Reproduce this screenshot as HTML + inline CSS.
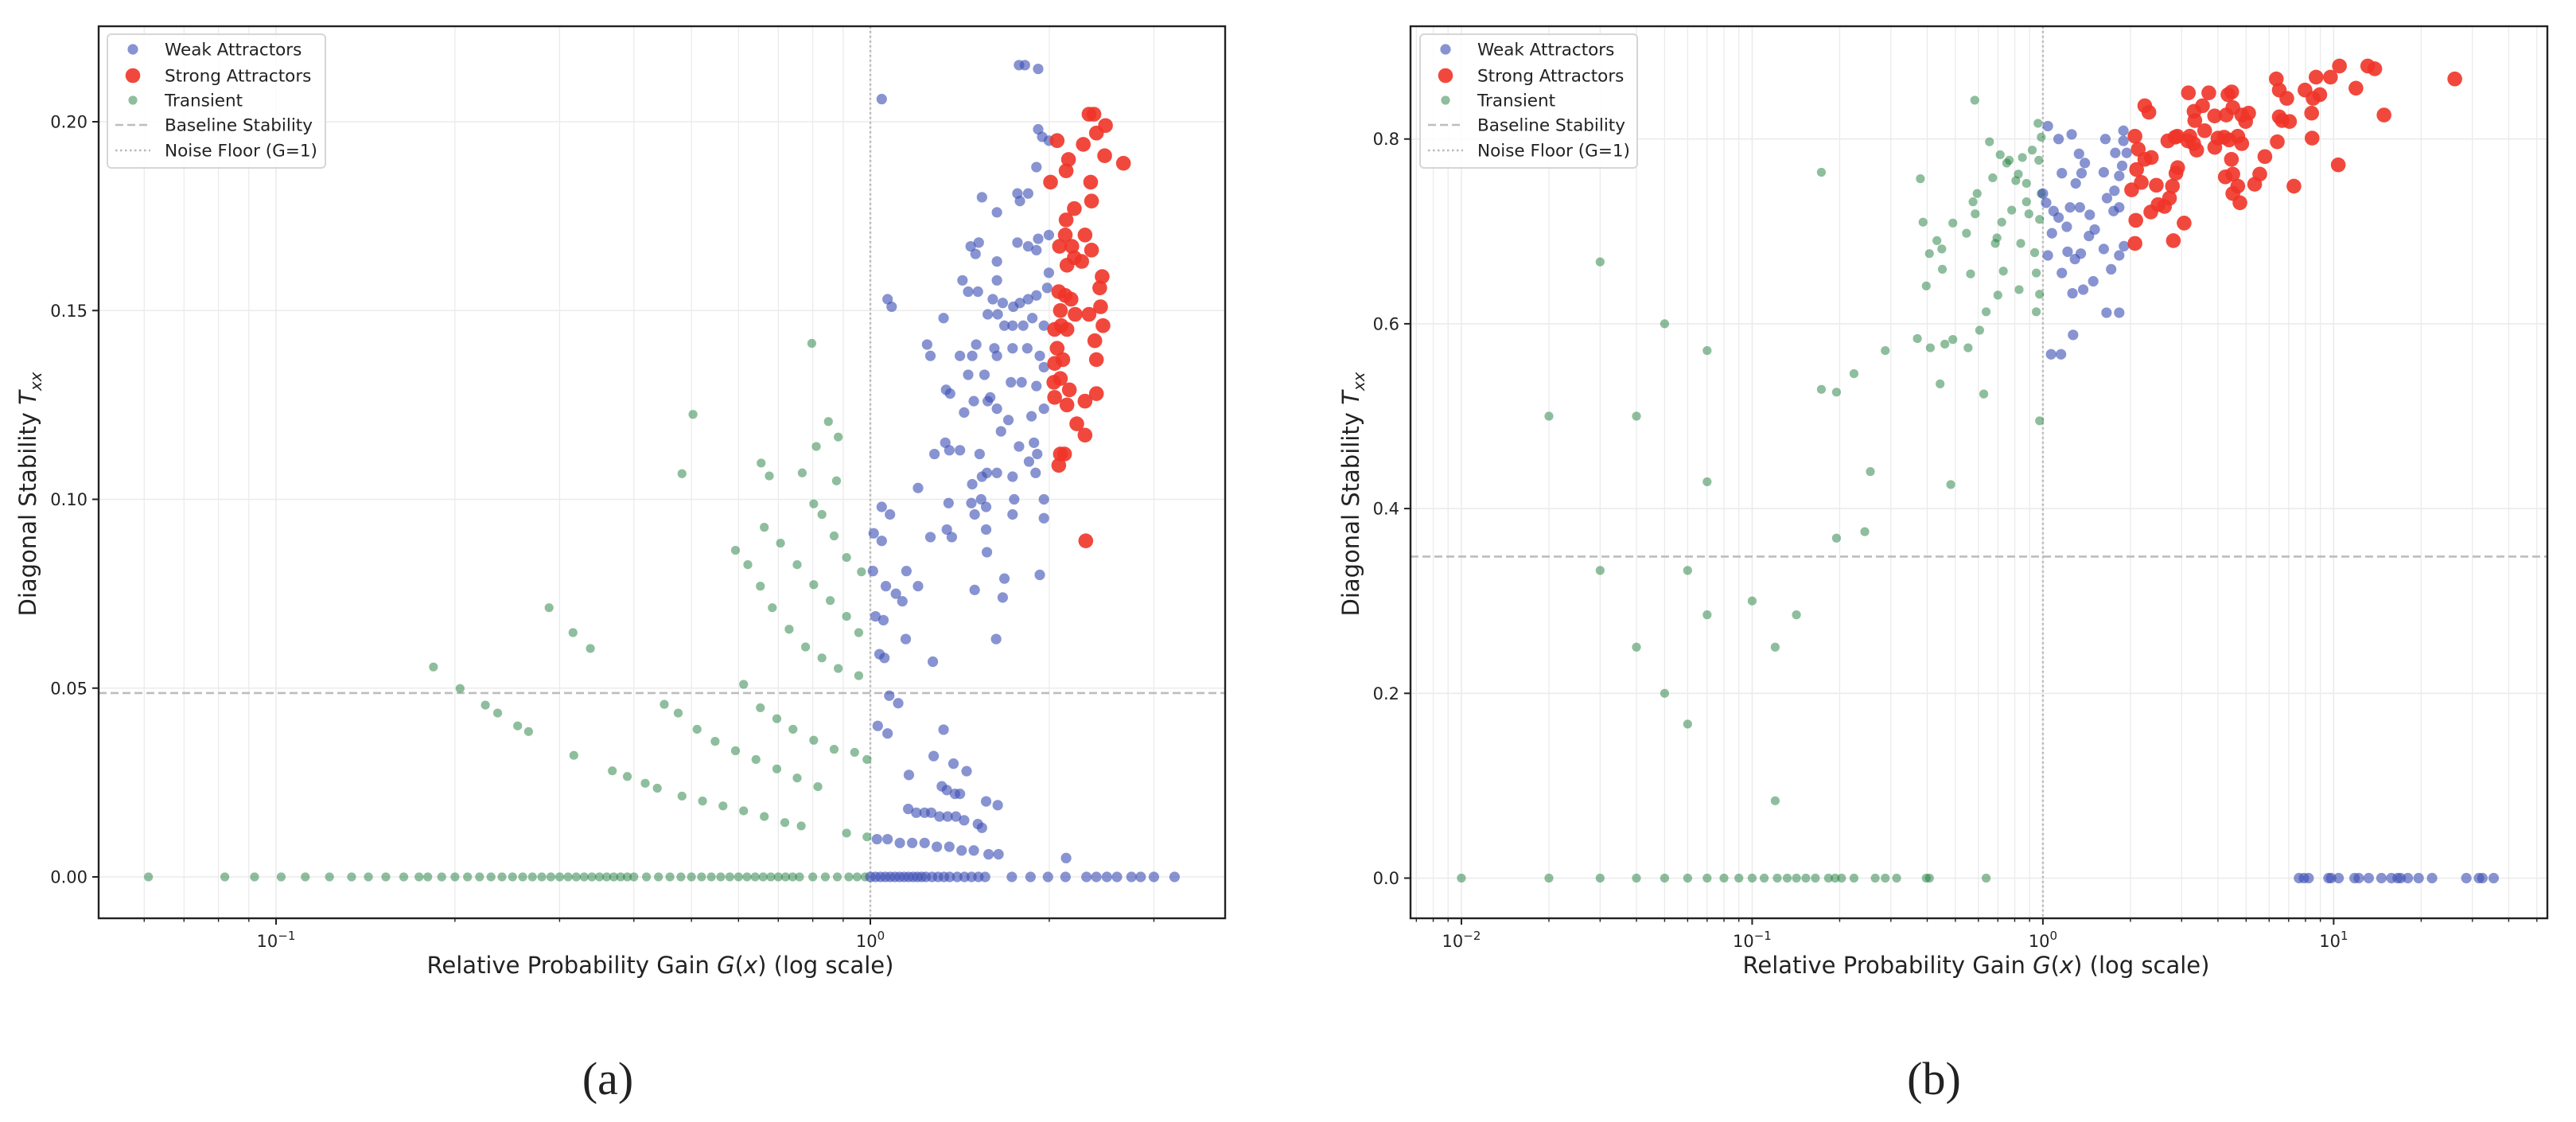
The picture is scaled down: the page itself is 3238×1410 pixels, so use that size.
<!DOCTYPE html>
<html><head><meta charset="utf-8"><style>
html,body{margin:0;padding:0;background:#fff}
svg{display:block;font-family:"DejaVu Sans","Liberation Sans",sans-serif}
</style></head><body>
<svg id="fig" width="3238" height="1410" viewBox="0 0 3238 1410" xmlns="http://www.w3.org/2000/svg">
<g id="panelA"></g>
<g id="panelB"></g>
</svg>
<script>
// ---------- Panel (a) data: [G, T] ----------
const weakA = [[1.045,0.206],[1.779,0.215],[1.820,0.215],[1.916,0.214],[1.916,0.198],[1.946,0.196],[1.997,0.195],[1.903,0.188],[1.541,0.180],[1.633,0.176],[1.768,0.181],[1.785,0.179],[1.843,0.181],[1.916,0.169],[1.997,0.170],[1.475,0.167],[1.522,0.168],[1.503,0.165],[1.633,0.163],[1.768,0.168],[1.843,0.167],[1.903,0.166],[1.429,0.158],[1.633,0.158],[1.997,0.160],[1.461,0.155],[1.517,0.155],[1.607,0.153],[1.670,0.152],[1.740,0.151],[1.785,0.152],[1.843,0.153],[1.903,0.154],[1.984,0.156],[1.069,0.153],[1.086,0.151],[1.328,0.148],[1.576,0.149],[1.638,0.149],[1.681,0.146],[1.735,0.146],[1.808,0.146],[1.873,0.148],[1.959,0.146],[1.246,0.141],[1.262,0.138],[1.415,0.138],[1.484,0.138],[1.507,0.141],[1.617,0.140],[1.633,0.138],[1.735,0.140],[1.837,0.140],[1.928,0.138],[1.959,0.135],[1.461,0.133],[1.556,0.133],[1.724,0.131],[1.797,0.131],[1.903,0.130],[1.341,0.129],[1.362,0.128],[1.438,0.123],[1.493,0.126],[1.576,0.126],[1.591,0.127],[1.633,0.124],[1.707,0.121],[1.867,0.122],[1.959,0.124],[1.337,0.115],[1.358,0.113],[1.415,0.113],[1.282,0.112],[1.527,0.112],[1.659,0.118],[1.779,0.114],[1.885,0.115],[1.909,0.112],[1.571,0.107],[1.633,0.107],[1.735,0.106],[1.849,0.110],[1.897,0.107],[1.484,0.104],[1.541,0.106],[1.203,0.103],[1.354,0.099],[1.479,0.099],[1.566,0.098],[1.746,0.100],[1.959,0.100],[1.959,0.095],[1.735,0.096],[1.498,0.096],[1.536,0.100],[1.345,0.092],[1.371,0.090],[1.262,0.090],[1.566,0.092],[1.045,0.098],[1.079,0.096],[1.013,0.091],[1.045,0.089],[1.150,0.081],[1.203,0.077],[1.062,0.077],[1.104,0.075],[1.132,0.073],[1.010,0.081],[1.020,0.069],[1.052,0.068],[1.147,0.063],[1.274,0.057],[1.036,0.059],[1.056,0.058],[1.498,0.076],[1.571,0.086],[1.681,0.079],[1.928,0.080],[1.670,0.074],[1.628,0.063],[1.076,0.048],[1.114,0.046],[1.029,0.040],[1.069,0.038],[1.161,0.027],[1.328,0.039],[1.278,0.032],[1.380,0.030],[1.452,0.028],[1.319,0.024],[1.345,0.023],[1.388,0.022],[1.415,0.022],[1.158,0.018],[1.195,0.017],[1.234,0.017],[1.266,0.017],[1.307,0.016],[1.349,0.016],[1.393,0.016],[1.438,0.015],[1.517,0.014],[1.541,0.013],[1.566,0.020],[1.638,0.019],[1.026,0.010],[1.069,0.010],[1.121,0.009],[1.176,0.009],[1.234,0.009],[1.294,0.008],[1.358,0.008],[1.424,0.007],[1.493,0.007],[1.581,0.006],[1.643,0.006],[2.135,0.005],
[1.0,0],[1.02,0],[1.04,0],[1.06,0],[1.08,0],[1.1,0],[1.12,0],[1.14,0],[1.16,0],[1.18,0],[1.2,0],[1.22,0],[1.24,0],[1.27,0],[1.3,0],[1.33,0],[1.36,0],[1.4,0],[1.44,0],[1.48,0],[1.52,0],[1.56,0],[1.73,0],[1.86,0],[1.99,0],[2.13,0],[2.31,0],[2.4,0],[2.5,0],[2.6,0],[2.75,0],[2.85,0],[3.0,0],[3.25,0]];
const strongA = [[2.333,0.202],[2.378,0.202],[2.401,0.197],[2.487,0.199],[2.062,0.195],[2.282,0.194],[2.479,0.191],[2.666,0.189],[2.155,0.190],[2.135,0.187],[2.010,0.184],[2.348,0.184],[2.356,0.179],[2.204,0.177],[2.135,0.174],[2.128,0.170],[2.297,0.170],[2.183,0.167],[2.356,0.166],[2.204,0.164],[2.081,0.167],[2.268,0.163],[2.142,0.162],[2.455,0.159],[2.075,0.155],[2.128,0.154],[2.432,0.156],[2.176,0.153],[2.440,0.151],[2.088,0.150],[2.211,0.149],[2.333,0.149],[2.095,0.146],[2.142,0.145],[2.463,0.146],[2.042,0.145],[2.386,0.142],[2.062,0.140],[2.108,0.137],[2.042,0.136],[2.401,0.137],[2.088,0.132],[2.036,0.131],[2.162,0.129],[2.401,0.128],[2.042,0.127],[2.297,0.126],[2.142,0.125],[2.225,0.120],[2.297,0.117],[2.088,0.112],[2.122,0.112],[2.075,0.109],[2.304,0.089]];
const transA = [[0.184,0.0556],[0.204,0.0499],[0.225,0.0455],[0.236,0.0434],[0.255,0.040],[0.266,0.0385],[0.317,0.0322],[0.288,0.0713],[0.316,0.0647],[0.338,0.0605],[0.482,0.1068],[0.503,0.1225],[0.797,0.1413],[0.850,0.1206],[0.883,0.1165],[0.811,0.114],[0.655,0.1096],[0.676,0.1062],[0.768,0.107],[0.877,0.1049],[0.368,0.0281],[0.390,0.0266],
[0.418,0.0248],[0.438,0.0235],[0.482,0.0214],[0.522,0.0201],[0.565,0.0188],[0.612,0.0175],[0.663,0.0160],[0.718,0.0144],[0.765,0.0135],[0.912,0.0116],[0.987,0.0106],
[0.450,0.0457],[0.475,0.0434],[0.511,0.0391],[0.548,0.0359],[0.593,0.0334],[0.642,0.0311],[0.696,0.0286],[0.753,0.0262],[0.816,0.0239],[0.987,0.0311],
[0.612,0.051],[0.653,0.0448],[0.696,0.0419],[0.741,0.0391],[0.803,0.0362],[0.869,0.0338],[0.941,0.033],
[0.593,0.0865],[0.622,0.0827],[0.653,0.077],[0.684,0.0713],[0.730,0.0656],[0.778,0.0609],[0.829,0.058],[0.883,0.0552],[0.956,0.0533],
[0.663,0.0926],[0.706,0.0884],[0.753,0.0827],[0.803,0.0774],[0.856,0.0732],[0.912,0.069],[0.956,0.0647],
[0.803,0.0988],[0.829,0.096],[0.869,0.0903],[0.912,0.0846],[0.966,0.0808],
[0.061,0],[0.082,0],[0.092,0],[0.102,0],[0.112,0],[0.123,0],[0.134,0],[0.143,0],[0.153,0],[0.164,0],[0.174,0],[0.18,0],[0.19,0],[0.2,0],[0.21,0],[0.22,0],[0.23,0],[0.24,0],[0.25,0],[0.26,0],[0.27,0],[0.28,0],[0.29,0],[0.30,0],[0.31,0],[0.32,0],[0.33,0],[0.34,0],[0.35,0],[0.36,0],[0.37,0],[0.38,0],[0.39,0],[0.40,0],[0.42,0],[0.44,0],[0.46,0],[0.48,0],[0.50,0],[0.52,0],[0.54,0],[0.56,0],[0.58,0],[0.60,0],[0.62,0],[0.64,0],[0.66,0],[0.68,0],[0.70,0],[0.72,0],[0.74,0],[0.76,0],[0.80,0],[0.84,0],[0.88,0],[0.92,0],[0.95,0],[0.98,0]];
const yTicksA = [0, 0.05, 0.10, 0.15, 0.20];
const yTickLabelsA = ["0.00","0.05","0.10","0.15","0.20"];
const xDecadesA = [-1, 0];
const baselineA = 0.0487;

// ---------- Panel (b) data: [G, T] ----------
const weakB = [[1.040,0.814],[1.132,0.800],[1.256,0.805],[1.0,0.741],[1.026,0.731],[1.162,0.763],[1.358,0.763],[1.394,0.774],[1.331,0.784],[1.640,0.800],[1.774,0.785],[1.892,0.809],[1.892,0.798],[1.942,0.785],[1.873,0.771],[1.83,0.760],[1.619,0.764],[1.661,0.736],[1.762,0.744],[1.75,0.722],[1.83,0.726],[1.297,0.752],[1.449,0.718],[1.34,0.726],[1.240,0.726],[1.088,0.722],[1.132,0.715],[1.074,0.698],[1.208,0.705],[1.507,0.702],[1.44,0.695],[1.216,0.678],[1.289,0.670],[1.35,0.676],[1.04,0.674],[1.619,0.681],[1.9,0.684],[1.83,0.674],[1.717,0.659],[1.162,0.655],[1.49,0.646],[1.376,0.637],[1.264,0.633],[1.655,0.612],[1.83,0.612],[1.27,0.588],[1.067,0.567],[1.154,0.567],
[7.6,0],[7.9,0],[8.2,0],[9.6,0],[9.8,0],[10.4,0],[11.8,0],[12.2,0],[13.2,0],[14.6,0],[15.8,0],[16.6,0],[17.0,0],[18.0,0],[19.6,0],[21.8,0],[28.6,0],[31.6,0],[32.5,0],[35.5,0]];
const strongB = [[2.241,0.836],[2.315,0.829],[2.073,0.803],[2.128,0.789],[2.241,0.778],[2.36,0.780],[2.10,0.767],[2.18,0.753],[2.019,0.745],[2.455,0.750],[2.087,0.712],[2.35,0.721],[2.073,0.687],[2.49,0.729],[2.62,0.727],[2.725,0.736],[2.869,0.763],[2.907,0.769],[2.69,0.798],[2.85,0.802],[3.165,0.850],[3.72,0.850],[3.31,0.830],[3.54,0.836],[3.33,0.820],[3.6,0.809],[3.2,0.803],[3.3,0.795],[3.38,0.788],[2.9,0.803],[3.15,0.798],[2.79,0.749],[3.06,0.709],[2.81,0.690],[3.896,0.825],[4.27,0.826],[4.33,0.848],[4.46,0.851],[4.5,0.834],[4.0,0.801],[3.9,0.791],[4.2,0.802],[4.83,0.826],[4.98,0.819],[5.1,0.828],[4.37,0.799],[4.68,0.803],[4.83,0.795],[4.45,0.778],[4.24,0.759],[4.5,0.762],[4.68,0.749],[4.5,0.741],[4.76,0.731],[5.57,0.762],[5.8,0.781],[5.35,0.751],[6.35,0.865],[6.5,0.853],[6.9,0.844],[6.5,0.824],[6.65,0.820],[7.05,0.819],[6.4,0.797],[7.3,0.749],[7.97,0.853],[8.7,0.867],[8.4,0.828],[8.43,0.801],[8.5,0.844],[8.96,0.848],[9.75,0.867],[10.47,0.879],[10.37,0.772],[11.93,0.855],[13.1,0.879],[13.85,0.876],[14.9,0.826],[26.1,0.865]];
const transB = [[0.02,0.5],[0.04,0.5],[0.03,0.333],[0.05,0.2],[0.06,0.1667],[0.1,0.3],[0.12,0.25],[0.12,0.0837],[0.03,0.667],[0.05,0.6],[0.07,0.571],[0.07,0.429],[0.04,0.25],[0.06,0.333],[0.07,0.285],[0.142,0.285],[0.173,0.764],[0.173,0.529],[0.195,0.526],[0.195,0.368],[0.224,0.546],[0.255,0.440],[0.244,0.375],[0.287,0.571],[0.370,0.584],[0.379,0.757],[0.387,0.710],[0.397,0.641],[0.407,0.676],[0.410,0.574],[0.432,0.690],[0.443,0.535],[0.449,0.681],[0.451,0.659],[0.46,0.578],[0.482,0.426],[0.49,0.709],[0.49,0.583],[0.546,0.698],[0.553,0.574],[0.564,0.654],[0.575,0.732],[0.583,0.842],[0.585,0.719],[0.594,0.741],[0.606,0.593],[0.626,0.524],[0.638,0.613],[0.655,0.797],[0.672,0.758],[0.686,0.687],[0.695,0.693],[0.70,0.631],[0.713,0.783],[0.722,0.710],[0.731,0.657],[0.751,0.774],[0.766,0.777],[0.781,0.723],[0.807,0.755],[0.823,0.762],[0.828,0.637],[0.839,0.687],[0.850,0.780],[0.878,0.732],[0.878,0.752],[0.895,0.719],[0.919,0.788],[0.937,0.677],[0.949,0.655],[0.949,0.613],[0.962,0.817],[0.968,0.777],[0.974,0.495],[0.974,0.632],[0.987,0.802],[0.987,0.741],[0.974,0.713],
[0.01,0],[0.02,0],[0.03,0],[0.04,0],[0.05,0],[0.06,0],[0.07,0],[0.08,0],[0.09,0],[0.1,0],[0.11,0],[0.122,0],[0.132,0],[0.142,0],[0.153,0],[0.165,0],[0.183,0],[0.193,0],[0.203,0],[0.224,0],[0.265,0],[0.287,0],[0.314,0],[0.397,0],[0.407,0],[0.638,0]];
const yTicksB = [0, 0.2, 0.4, 0.6, 0.8];
const yTickLabelsB = ["0.0","0.2","0.4","0.6","0.8"];
const xDecadesB = [-2, -1, 0, 1];
const baselineB = 0.348;

const NS = "http://www.w3.org/2000/svg";
function mk(parent, tag, attrs, text) {
  const e = document.createElementNS(NS, tag);
  for (const k in attrs) e.setAttribute(k, attrs[k]);
  if (text !== undefined) e.textContent = text;
  parent.appendChild(e);
  return e;
}

function drawPanel(g, cfg) {
  const L = cfg.left, R = cfg.right, T = cfg.top, B = cfg.bottom;
  const xs = v => L + (Math.log10(v) - cfg.lmin) / (cfg.lmax - cfg.lmin) * (R - L);
  const ys = v => cfg.y0 - v * cfg.ppu;
  // grid minor
  for (let d = Math.floor(cfg.lmin); d <= Math.ceil(cfg.lmax); d++) {
    for (let m = 1; m <= 9; m++) {
      const v = m * Math.pow(10, d);
      const lv = Math.log10(v);
      if (lv < cfg.lmin || lv > cfg.lmax) continue;
      const x = xs(v);
      const gl = mk(g, "line", {x1:x, x2:x, y1:T, y2:B, stroke:"#ebebeb", "stroke-width": m===1?1.6:1.3});
      
      
      const tk = mk(g, "line", {x1:x, x2:x, y1:B, y2:B + (m===1?8:4.5), stroke:"#222", "stroke-width": m===1?2:1.4});
      
      
    }
  }
  cfg.yTicks.forEach((v, i) => {
    const y = ys(v);
    const gl = mk(g, "line", {x1:L, x2:R, y1:y, y2:y, stroke:"#ebebeb", "stroke-width":1.6});
    
    
    const tk = mk(g, "line", {x1:L-8, x2:L, y1:y, y2:y, stroke:"#222", "stroke-width":2});
    
    
    const tl = mk(g, "text", {x:L-14, y:y+7.5, "text-anchor":"end", "font-size":21, fill:"#222"}, cfg.yTickLabels[i]);
    
    
  });
  cfg.xDecades.forEach(d => {
    const x = xs(Math.pow(10, d));
    const t = mk(g, "text", {x:x, y:1190, "text-anchor":"middle", "font-size":21, fill:"#222"});
    mk(t, "tspan", {}, "10");
    mk(t, "tspan", {dy:-9, "font-size":15}, "\u2212" + Math.abs(d) === "" ? "" : (d < 0 ? "\u2212" + Math.abs(d) : String(d)));
    
    
  });
  // reference lines
  const bl = mk(g, "line", {x1:L, x2:R, y1:ys(cfg.baseline), y2:ys(cfg.baseline), stroke:"#bdbdbd", "stroke-width":2.6, "stroke-dasharray":"10,5"});
  
  
  const nf = mk(g, "line", {x1:xs(1), x2:xs(1), y1:T, y2:B, stroke:"#b8b8b8", "stroke-width":2.4, "stroke-dasharray":"2.5,3.5"});
  
  
  // points
  const gt = mk(g, "g", {});
  
  
  cfg.trans.forEach(p => {
    const c = mk(gt, "circle", {cx:xs(p[0]), cy:ys(p[1]), r:5.6, fill:"#1e7d3c", "fill-opacity":0.5});
    
    
  });
  const gw = mk(g, "g", {});
  
  
  cfg.weak.forEach(p => {
    const c = mk(gw, "circle", {cx:xs(p[0]), cy:ys(p[1]), r:6.6, fill:"#3f51b5", "fill-opacity":0.62});
    
    
  });
  const gs = mk(g, "g", {});
  
  
  cfg.strong.forEach(p => {
    const c = mk(gs, "circle", {cx:xs(p[0]), cy:ys(p[1]), r:9.3, fill:"#ef3428", "fill-opacity":0.9});
    
    
  });
  // frame
  const fr = mk(g, "rect", {x:L, y:T, width:R-L, height:B-T, fill:"none", stroke:"#222", "stroke-width":2.4});
  
  
  // legend
  const lg = mk(g, "g", {});
  
  
  const lx = cfg.legX, lw = cfg.legW;
  mk(lg, "rect", {x:lx, y:43, width:lw, height:168, rx:5, fill:"#fff", "fill-opacity":0.85, stroke:"#d6d6d6", "stroke-width":2});
  const mx = lx + 32, tx = lx + 72;
  const entries = [
    ["Weak Attractors", "weak"], ["Strong Attractors", "strong"], ["Transient", "trans"],
    ["Baseline Stability", "dash"], ["Noise Floor (G=1)", "dot"]];
  const ey = [62, 95, 126, 157, 189];
  entries.forEach((e, i) => {
    const y = ey[i];
    const eg = mk(lg, "g", {});
    
    
    if (e[1] === "weak") mk(eg, "circle", {cx:mx, cy:y, r:6.6, fill:"#3f51b5", "fill-opacity":0.62});
    if (e[1] === "strong") mk(eg, "circle", {cx:mx, cy:y, r:9.3, fill:"#ef3428", "fill-opacity":0.9});
    if (e[1] === "trans") mk(eg, "circle", {cx:mx, cy:y, r:5.6, fill:"#1e7d3c", "fill-opacity":0.5});
    if (e[1] === "dash") mk(eg, "line", {x1:mx-22, x2:mx+22, y1:y, y2:y, stroke:"#bdbdbd", "stroke-width":2.6, "stroke-dasharray":"10,5"});
    if (e[1] === "dot") mk(eg, "line", {x1:mx-22, x2:mx+22, y1:y, y2:y, stroke:"#b8b8b8", "stroke-width":2.4, "stroke-dasharray":"2.5,3.5"});
    mk(eg, "text", {x:tx, y:y+7.5, "font-size":21.5, fill:"#222"}, e[0]);
  });
  // axis labels
  const xl = mk(g, "text", {x:cfg.xLabelX, y:1223, "text-anchor":"middle", "font-size":29, fill:"#222"});
  mk(xl, "tspan", {}, "Relative Probability Gain ");
  mk(xl, "tspan", {"font-style":"italic"}, "G");
  mk(xl, "tspan", {}, "(");
  mk(xl, "tspan", {"font-style":"italic"}, "x");
  mk(xl, "tspan", {}, ") (log scale)");
  
  
  const yl = mk(g, "text", {x:0, y:0, "text-anchor":"middle", "font-size":29, fill:"#222", transform:"translate(" + cfg.yLabelX + ",621) rotate(-90)"});
  mk(yl, "tspan", {}, "Diagonal Stability ");
  mk(yl, "tspan", {"font-style":"italic"}, "T");
  mk(yl, "tspan", {"font-style":"italic", "font-size":20, dy:7}, "xx");
  
  
  const cap = mk(g, "text", {x:cfg.capX, y:1375, "text-anchor":"middle", "font-size":58, fill:"#222", "font-family":"'Liberation Serif', serif"}, cfg.cap);
  
  
}

drawPanel(document.getElementById("panelA"), {
  left:124, right:1540, top:33, bottom:1154, lmin:-1.2985, lmax:0.597, y0:1102, ppu:4745,
  yTicks:yTicksA, yTickLabels:yTickLabelsA, xDecades:xDecadesA, baseline:baselineA,
  weak:weakA, strong:strongA, trans:transA, legX:135, legW:274, xLabelX:830, yLabelX:45, capX:764, cap:"(a)"
});
drawPanel(document.getElementById("panelB"), {
  left:1773, right:3202, top:33, bottom:1154, lmin:-2.175, lmax:1.735, y0:1103.5, ppu:1161,
  yTicks:yTicksB, yTickLabels:yTickLabelsB, xDecades:xDecadesB, baseline:baselineB,
  weak:weakB, strong:strongB, trans:transB, legX:1785, legW:273, xLabelX:2484, yLabelX:1708, capX:2431, cap:"(b)"
});
</script>
</body></html>
